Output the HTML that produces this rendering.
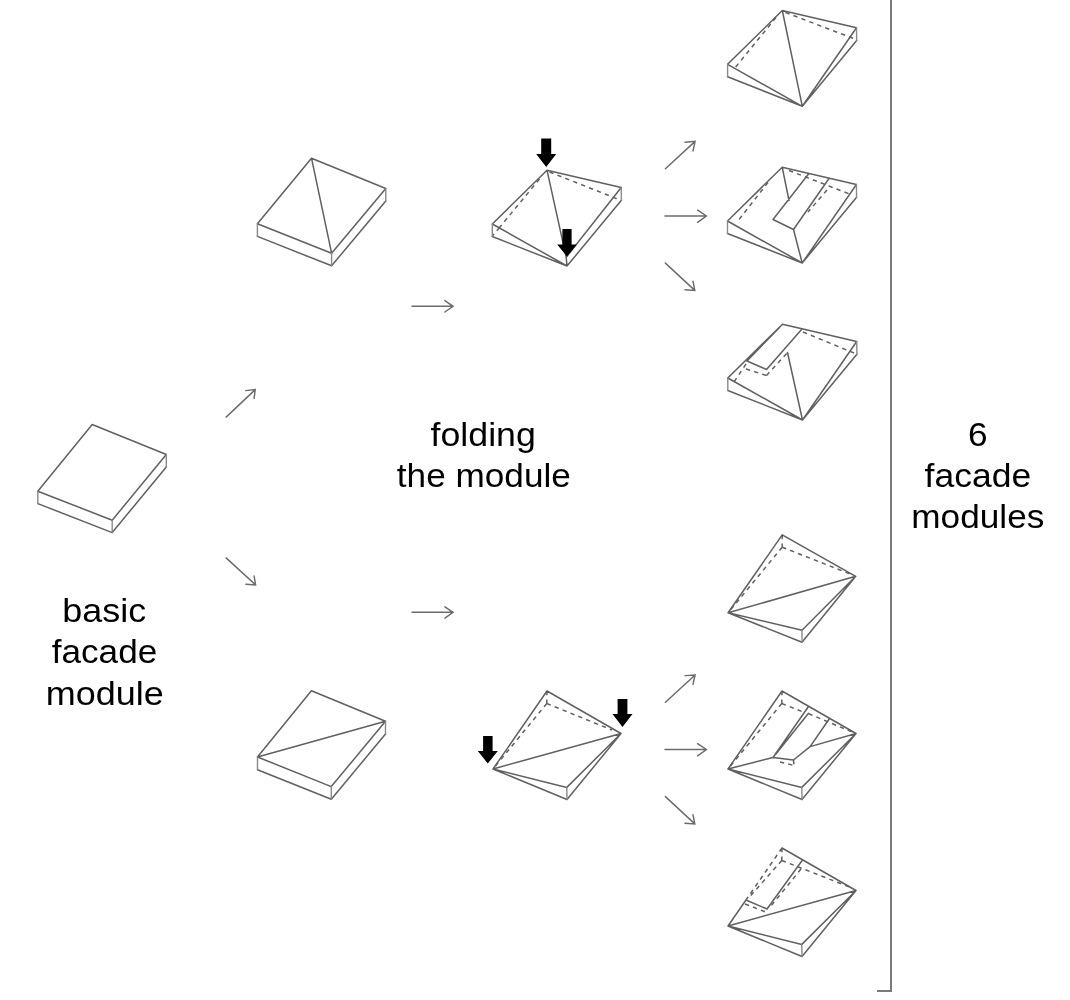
<!DOCTYPE html>
<html><head><meta charset="utf-8"><style>
html,body{margin:0;padding:0;background:#fff;width:1070px;height:1000px;overflow:hidden}
svg{position:absolute;left:0;top:0;will-change:transform}
.s{fill:none;stroke:#606060;stroke-width:1.5;stroke-linejoin:round;stroke-linecap:round}
.d{fill:none;stroke:#606060;stroke-width:1.5;stroke-dasharray:4.3 4.2}
.a{fill:none;stroke:#6c6c6c;stroke-width:1.45;stroke-linejoin:miter;stroke-linecap:round}
.f{fill:#000}
.v{fill:none;stroke:#8a8a8a;stroke-width:1.4;stroke-linecap:round}
.sep{fill:none;stroke:#7a7a7a;stroke-width:2}
text{font-family:"Liberation Sans",sans-serif;font-size:34px;fill:#000;text-anchor:middle}
</style></head><body>
<svg width="1070" height="1000" viewBox="0 0 1070 1000">
<g class="bl">
<path class="s" d="M92.2 424.5L166.3 454.5 M166.3 454.5L112.2 520.2 M112.2 520.2L37.8 491.2 M37.8 491.2L92.2 424.5 M166.3 466.9L112.2 532.6 M112.2 532.6L37.8 503.6 M311.5 158.2L385.8 188.5 M385.8 188.5L331.6 253.2 M331.6 253.2L257.4 223.8 M257.4 223.8L311.5 158.2 M385.8 201.1L331.6 265.8 M331.6 265.8L257.4 236.4 M311.5 158.2L331.6 253.2 M311.4 690.8L385.5 721.2 M385.5 721.2L331.3 786.6 M331.3 786.6L257.5 757.0 M257.5 757.0L311.4 690.8 M385.5 733.9L331.3 799.3 M331.3 799.3L257.5 769.7 M257.5 757.0L385.5 721.2 M547.0 170.2L621.2 187.5 M547.0 170.2L492.3 224.0 M492.3 224.0L567.0 266.0 M492.3 236.5L567.0 266.0 M621.2 187.5L566.2 257.3 M621.4 200.3L567.0 266.0 M566.2 257.3L567.0 266.0 M547.0 170.2L566.2 257.3 M547.0 691.0L621.0 733.5 M547.0 691.0L493.0 769.0 M493.0 769.0L566.8 787.4 M621.0 733.5L566.8 787.4 M493.0 769.0L567.0 799.5 M621.0 733.5L567.0 799.5 M493.0 769.0L621.0 733.5 M782.3 10.5L856.5 27.8 M782.3 10.5L727.6 64.3 M727.6 64.3L802.3 106.3 M727.6 76.8L802.3 106.3 M856.5 27.8L802.3 106.3 M856.7 40.6L802.3 106.3 M782.3 10.5L802.3 106.3 M782.2 167.2L856.4 184.5 M782.2 167.2L727.5 221.0 M727.5 221.0L802.2 263.0 M727.5 233.5L802.2 263.0 M856.4 184.5L802.2 263.0 M856.6 197.3L802.2 263.0 M808.5 174.0L773.0 219.5 M773.0 219.5L793.5 229.5 M829.0 178.5L793.5 229.5 M793.5 229.5L802.2 263.0 M782.2 167.2L789.0 200.5 M782.5 324.2L856.7 341.5 M782.5 324.2L727.8 378.0 M727.8 378.0L802.5 420.0 M727.8 390.5L802.5 420.0 M856.7 341.5L802.5 420.0 M856.9 354.3L802.5 420.0 M802.0 329.0L766.5 369.5 M766.5 369.5L747.0 361.0 M747.0 361.0L779.5 327.5 M787.5 352.5L802.5 420.0 M782.2 534.9L855.7 576.3 M782.2 534.9L728.1 612.8 M728.1 612.8L802.0 630.3 M855.7 576.3L802.0 630.3 M728.1 612.8L802.0 642.2 M855.7 576.3L802.0 642.2 M728.1 612.8L855.7 576.3 M782.0 691.0L856.0 733.5 M782.0 691.0L728.0 769.0 M728.0 769.0L801.8 787.4 M856.0 733.5L801.8 787.4 M728.0 769.0L802.0 799.5 M856.0 733.5L802.0 799.5 M808.5 706.5L773.0 757.5 M808.5 713.3L775.5 754.5 M773.0 757.5L793.5 760.0 M829.5 718.5L810.1 746.6 M810.1 746.6L793.5 760.0 M728.0 769.0L773.0 757.5 M810.1 746.6L856.0 733.5 M782.0 848.0L856.0 890.5 M728.0 926.0L746.0 900.0 M746.0 900.0L767.0 909.0 M802.5 860.0L767.0 909.0 M728.0 926.0L856.0 890.5 M728.0 926.0L801.8 944.4 M728.0 926.0L802.0 956.5 M856.0 890.5L801.8 944.4 M856.0 890.5L802.0 956.5"/>
<path class="v" d="M166.3 454.5L166.3 466.9 M112.2 520.2L112.2 532.6 M37.8 491.2L37.8 503.6 M385.8 188.5L385.8 201.1 M331.6 253.2L331.6 265.8 M257.4 223.8L257.4 236.4 M385.5 721.2L385.5 733.9 M331.3 786.6L331.3 799.3 M257.5 757.0L257.5 769.7 M621.2 187.5L621.4 200.3 M492.3 224.0L492.3 236.5 M566.8 787.4L567.0 799.5 M856.5 27.8L856.7 40.6 M727.6 64.3L727.6 76.8 M856.4 184.5L856.6 197.3 M727.5 221.0L727.5 233.5 M856.7 341.5L856.9 354.3 M727.8 378.0L727.8 390.5 M802.0 630.3L802.0 642.2 M801.8 787.4L802.0 799.5 M801.8 944.4L802.0 956.5"/>
<path class="d" d="M549.5 172.0L617.5 199.0 M539.5 179.0L499.5 227.5 M499.5 227.5L492.8 235.5 M547.0 691.0L546.8 703.5 M546.8 703.5L493.0 769.0 M546.8 703.5L612.0 730.0 M785.5 12.5L853.5 38.5 M776.0 17.5L734.0 69.0 M789.0 170.5L852.0 195.0 M768.0 182.5L737.5 221.5 M827.0 190.0L808.0 212.0 M803.0 332.0L854.0 353.0 M746.0 364.0L734.0 382.0 M746.0 369.0L766.5 375.5 M766.5 375.5L788.0 352.0 M782.2 534.9L782.2 547.2 M782.2 547.2L728.1 612.8 M782.2 547.2L851.5 574.5 M782.0 691.0L781.8 703.5 M781.8 703.5L728.0 769.0 M781.8 703.5L804.0 712.3 M808.5 713.6L852.0 732.0 M780.0 762.0L794.0 765.5 M793.5 760.0L794.0 765.5 M782.0 848.0L746.0 900.0 M781.8 860.5L748.5 898.0 M782.0 848.0L781.8 860.5 M781.8 860.5L852.0 888.0 M745.0 904.0L767.0 912.5 M801.0 869.0L771.0 906.0"/>
<path class="a" d="M226.1 417.1L255.2 389.6M245.7 390.6L255.2 389.6L254.1 398.4 M226.1 557.9L255.6 584.9M245.9 584.3L255.6 584.9L254.1 575.9 M412.0 306.3L453.1 306.3M444.9 300.6L453.1 306.3L444.9 312.0 M412.0 612.3L453.1 612.3M444.9 606.8L453.1 612.3L444.9 618.1 M665.4 168.8L695.1 141.4M685.0 142.2L695.1 141.4L693.0 150.9 M665.0 216.0L706.4 216.0M697.6 210.1L706.4 216.0L697.6 222.3 M665.4 263.1L694.8 290.4M685.0 289.7L694.8 290.4L693.0 281.3 M665.4 702.2L695.1 675.0M685.0 675.6L695.1 675.0L693.0 684.4 M665.0 749.5L706.4 749.5M697.6 743.6L706.4 749.5L697.6 755.9 M665.4 796.6L694.8 823.9M685.0 823.2L694.8 823.9L693.0 814.8"/>
<polygon class="f" points="541.2,138.5 551.2,138.5 551.2,154.0 556.2,154.0 546.2,167.0 536.2,154.0 541.2,154.0"/>
<polygon class="f" points="562.4,229.0 571.6,229.0 571.6,244.5 576.8,244.5 567.0,256.5 557.2,244.5 562.4,244.5"/>
<polygon class="f" points="483.1,736.0 492.6,736.0 492.6,751.0 497.8,751.0 487.8,763.5 477.8,751.0 483.1,751.0"/>
<polygon class="f" points="617.6,699.0 627.4,699.0 627.4,714.0 632.5,714.0 622.5,727.0 612.5,714.0 617.6,714.0"/>
<path class="sep" d="M891 0L891 991L877 991"/>
</g>
<text transform="translate(104.3 622) scale(1.057 1)">basic</text>
<text transform="translate(104.5 663) scale(1.035 1)">facade</text>
<text transform="translate(104.8 705) scale(1.059 1)">module</text>
<text transform="translate(483.2 445.5) scale(1.051 1)">folding</text>
<text transform="translate(483.85 486.5) scale(1.035 1)">the module</text>
<text transform="translate(977.75 445.5) scale(1.035 1)">6</text>
<text transform="translate(977.85 487) scale(1.044 1)">facade</text>
<text transform="translate(977.8 528) scale(1.035 1)">modules</text>
</svg>
</body></html>
